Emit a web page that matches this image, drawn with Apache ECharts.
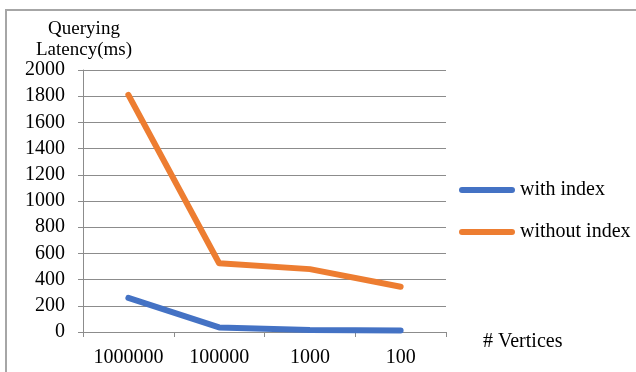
<!DOCTYPE html>
<html>
<head>
<meta charset="utf-8">
<script src="https://cdn.jsdelivr.net/npm/echarts@6/dist/echarts.min.js"></script>
<style>
html,body{margin:0;padding:0;background:#fff;}
#main{width:636px;height:372px;}
</style>
</head>
<body>
<div id="main"></div>
<script>
const categories = ['1000000', '100000', '1000', '100'];
const withIndex = [260, 35, 15, 12];
const withoutIndex = [1810, 525, 480, 345];
const seriesNames = ['with index', 'without index'];

const FONT = 'Liberation Serif';
const FS = 20;
const chart = echarts.init(document.getElementById('main'), null, {renderer: 'canvas'});
const roundBar = 'path://M3,0 H53 A3,3 0 0 1 53,6 H3 A3,3 0 0 1 3,0 Z';

chart.setOption({
  animation: false,
  backgroundColor: '#ffffff',
  textStyle: {fontFamily: FONT, color: '#000'},
  grid: {left: 83, right: 190, top: 70, bottom: 40, containLabel: false},
  graphic: [{
    type: 'rect',
    shape: {x: 6, y: 10, width: 700, height: 400},
    style: {fill: 'none', stroke: '#a6a6a6', lineWidth: 2},
    silent: true
  }],
  legend: {
    orient: 'vertical',
    left: 454,
    top: 175,
    padding: 5,
    itemWidth: 56,
    itemHeight: 6,
    itemGap: 22,
    icon: roundBar,
    textStyle: {fontFamily: FONT, fontSize: FS, color: '#000', lineHeight: 20},
    data: seriesNames
  },
  xAxis: {
    type: 'category',
    data: categories,
    boundaryGap: true,
    axisLine: {lineStyle: {color: '#8c8c8c', width: 1}},
    axisTick: {show: true, length: 5, interval: 0, lineStyle: {color: '#8c8c8c'}},
    axisLabel: {fontFamily: FONT, fontSize: FS, color: '#000', margin: 16, interval: 0},
    splitLine: {show: false},
    name: '# Vertices',
    nameLocation: 'end',
    nameGap: 37,
    nameTextStyle: {fontFamily: FONT, fontSize: FS, color: '#000', verticalAlign: 'top', padding: [0, 0, 0, 0]}
  },
  yAxis: {
    type: 'value',
    min: 0,
    max: 2000,
    interval: 200,
    axisLine: {show: true, lineStyle: {color: '#8c8c8c', width: 1}},
    axisTick: {show: true, length: 5, lineStyle: {color: '#8c8c8c'}},
    axisLabel: {fontFamily: FONT, fontSize: FS, color: '#000', margin: 18, formatter: v => String(v)},
    splitLine: {show: true, lineStyle: {color: '#8c8c8c', width: 1}},
    name: 'Querying\nLatency(ms)',
    nameLocation: 'end',
    nameGap: 5,
    nameTextStyle: {fontFamily: FONT, fontSize: 19, color: '#000', align: 'center', lineHeight: 21, padding: [0, 0, 0, 2]}
  },
  series: [
    {
      name: seriesNames[0],
      type: 'line',
      data: withIndex,
      showSymbol: false,
      symbol: 'none',
      color: '#4472C4',
      lineStyle: {color: '#4472C4', width: 6, cap: 'round', join: 'round'}
    },
    {
      name: seriesNames[1],
      type: 'line',
      data: withoutIndex,
      showSymbol: false,
      symbol: 'none',
      color: '#ED7D31',
      lineStyle: {color: '#ED7D31', width: 6, cap: 'round', join: 'round'}
    }
  ]
});
</script>
</body>
</html>
